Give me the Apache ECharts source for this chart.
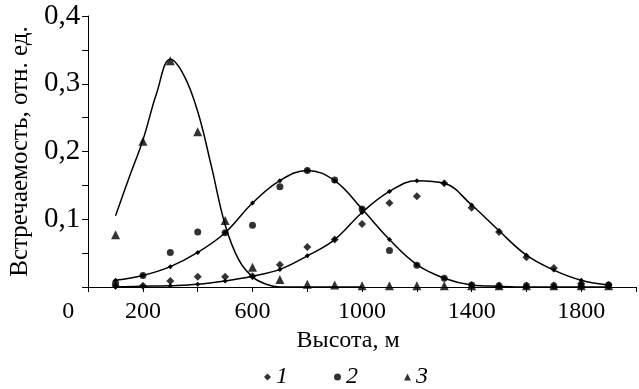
<!DOCTYPE html>
<html>
<head>
<meta charset="utf-8">
<script src="https://cdn.jsdelivr.net/npm/echarts@6/dist/echarts.min.js"></script>
<style>html,body{margin:0;padding:0;background:#fff}#c{width:639px;height:389px}</style>
</head>
<body>
<div id="c"></div>
<script>
// Heights (m)
const heights = [100,200,300,400,500,600,700,800,900,1000,1100,1200,1300,1400,1500,1600,1700,1800,1900];
// Observed frequencies
const series1 = [0.002,0.002,0.009,0.015,0.015,0.016,0.033,0.059,0.070,0.093,0.124,0.134,0.153,0.117,0.081,0.044,0.028,0.005,0.003];
const series2 = [0.006,0.017,0.051,0.081,0.080,0.091,0.148,0.172,0.158,0.115,0.054,0.032,0.013,0.003,0.002,0.002,0.002,0.002,0.003];
const series3 = [0.077,0.215,0.334,0.229,0.098,0.029,0.011,0.004,0.003,0.002,0.002,0.002,0.002,0.002,0.002,0.002,0.002,0.002,0.002];
// Fitted curves
const fit1 = [0.000,0.001,0.002,0.004,0.009,0.016,0.026,0.046,0.070,0.110,0.141,0.157,0.153,0.121,0.083,0.047,0.025,0.010,0.003];
const fit2 = [0.010,0.017,0.030,0.051,0.080,0.124,0.157,0.172,0.157,0.115,0.070,0.033,0.013,0.003,0.001,0.000,0.000,0.000,0.000];
const fit3Heights = [100,150,200,250,300,350,400,450,500,550,600,650,700,800,900,1000];
const fit3 = [0.105,0.162,0.217,0.286,0.336,0.312,0.259,0.178,0.092,0.040,0.015,0.004,0.000,0.000,0.000,0.000];
// Tick labels
const xLabels = [0,200,600,1000,1400,1800];
const yLabels = [0.1,0.2,0.3,0.4];
const legendNames = ['1','2','3'];

const FONT = '"Liberation Serif","Times New Roman",serif';
const pairs = (xs, ys) => xs.map((x, i) => [x, ys[i]]);

const chart = echarts.init(document.getElementById('c'), null, {renderer: 'canvas'});
chart.setOption({
  animation: false,
  backgroundColor: '#fff',
  grid: {left: 84, right: -5, top: 16, bottom: 102},
  xAxis: {
    type: 'value', min: 0, max: 2000, interval: 200,
    axisLine: {lineStyle: {color: '#000', width: 1}},
    axisTick: {length: 5, lineStyle: {color: '#000'}},
    splitLine: {show: false},
    axisLabel: {
      margin: 13, color: '#000', fontFamily: FONT, fontSize: 24,
      formatter: v => {
        if (!xLabels.includes(v)) return '';
        return v === 0 ? '{z|0}' : String(v);
      },
      rich: {z: {fontFamily: FONT, fontSize: 24, color: '#000', padding: [0, 40, 0, 0]}}
    },
    name: 'Высота, м', nameLocation: 'middle', nameGap: 42,
    nameTextStyle: {fontFamily: FONT, fontSize: 24, color: '#000', padding: [0, 28, 0, 0]}
  },
  yAxis: {
    type: 'value', min: 0, max: 0.4, interval: 0.05,
    axisLine: {show: true, lineStyle: {color: '#000', width: 1}},
    axisTick: {show: true, length: 6, lineStyle: {color: '#000'}},
    splitLine: {show: false},
    axisLabel: {
      margin: 8, color: '#000', fontFamily: FONT, fontSize: 29,
      formatter: v => {
        const hit = yLabels.find(l => Math.abs(l - v) < 1e-6);
        return hit !== undefined ? hit.toFixed(1).replace('.', ',') : '';
      }
    },
    name: 'Встречаемость, отн. ед.', nameLocation: 'middle', nameGap: 50,
    nameTextStyle: {fontFamily: FONT, fontSize: 25, color: '#000'}
  },
  legend: {
    data: legendNames, left: 259, top: 360, itemWidth: 7, itemHeight: 7, itemGap: 46,
    textStyle: {fontFamily: FONT, fontStyle: 'italic', fontSize: 24, color: '#000'}
  },
  series: [
    {name: 'f1', type: 'line', data: pairs(heights, fit1), smooth: 0.4, symbol: 'diamond', symbolSize: 5,
     lineStyle: {color: '#000', width: 1.5}, itemStyle: {color: '#000'}, z: 2},
    {name: 'f2', type: 'line', data: pairs(heights, fit2), smooth: 0.4, symbol: 'diamond', symbolSize: 5,
     lineStyle: {color: '#000', width: 1.5}, itemStyle: {color: '#000'}, z: 2},
    {name: 'f3', type: 'line', data: pairs(fit3Heights, fit3), smooth: 0.4, symbol: 'none',
     lineStyle: {color: '#000', width: 1.5}, itemStyle: {color: '#000'}, z: 2},
    {name: legendNames[0], type: 'scatter', data: pairs(heights, series1), symbol: 'diamond', symbolSize: 8,
     itemStyle: {color: '#000'}, z: 3},
    {name: legendNames[1], type: 'scatter', data: pairs(heights, series2), symbol: 'circle', symbolSize: 7,
     itemStyle: {color: '#000'}, z: 3},
    {name: legendNames[2], type: 'scatter', data: pairs(heights, series3), symbol: 'triangle', symbolSize: 9,
     itemStyle: {color: '#000'}, z: 3}
  ]
});
</script>
</body>
</html>
